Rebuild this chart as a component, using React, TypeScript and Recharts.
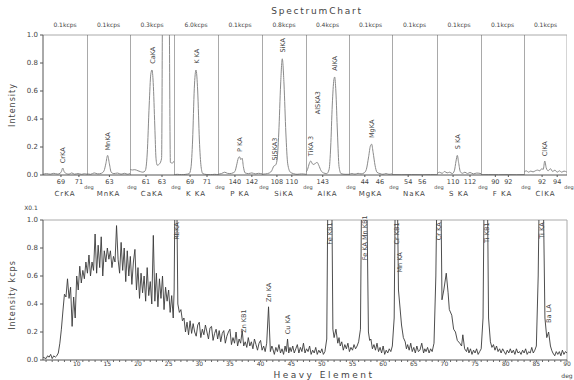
import { LineChart, Line, XAxis, YAxis, ReferenceLine, ReferenceDot } from "recharts";

const FONT = "'DejaVu Sans', Verdana, sans-serif";

// ---- top: spectrum panels ----
const panelNames = ["CrKA", "MnKA", "CaKA", "K KA", "P KA", "SiKA", "AlKA", "MgKA", "NaKA", "S KA", "F KA", "ClKA"];
const panelRates = ["0.1kcps", "0.1kcps", "0.3kcps", "6.0kcps", "0.1kcps", "0.8kcps", "0.4kcps", "0.1kcps", "0.1kcps", "0.1kcps", "0.1kcps", "0.1kcps"];
const panelDomains = [
  [67, 71.9], [60.5, 65.3], [59, 64.5], [67.1, 72.3], [138, 143.2], [106, 111.9],
  [140.9, 146.3], [41.9, 47.6], [51.7, 58.1], [108.1, 113.3], [87.8, 94.4], [89.6, 95.3],
];
const panelTicks = [[69, 71], [63], [61, 63], [69, 71], [140, 142], [108, 110], [143], [44, 46], [54, 56], [110, 112], [90, 92], [92, 94]];
const intensityTicks = [0, 0.2, 0.4, 0.6, 0.8, 1.0];

const crKA = [[67, 0.005], [67.4, 0.01], [67.8, 0.006], [68.2, 0.012], [68.6, 0.007], [68.9, 0.012], [69.05, 0.025], [69.2, 0.05], [69.35, 0.025], [69.6, 0.01], [69.9, 0.006], [70.2, 0.015], [70.5, 0.006], [70.9, 0.01], [71.3, 0.005], [71.6, 0.009], [71.9, 0.006]];
const mnKA = [[60.5, 0.01], [60.9, 0.005], [61.3, 0.015], [61.7, 0.008], [62.1, 0.012], [62.4, 0.03], [62.6, 0.08], [62.8, 0.14], [63.0, 0.08], [63.2, 0.02], [63.5, 0.01], [63.9, 0.014], [64.3, 0.006], [64.7, 0.012], [65.0, 0.006], [65.3, 0.01]];
const caKA = [[59, 0.04], [59.3, 0.036], [59.6, 0.038], [60, 0.03], [60.3, 0.024], [60.6, 0.02], [60.9, 0.03], [61.15, 0.15], [61.4, 0.5], [61.6, 0.72], [61.75, 0.75], [61.9, 0.66], [62.1, 0.35], [62.25, 0.12], [62.4, 0.07], [62.7, 0.08], [62.95, 0.12], [63.1, 1.5], [63.85, 1.5], [64.05, 0.09], [64.3, 0.085], [64.5, 0.1]];
const kKA = [[67.1, 0.002], [67.5, 0.005], [68, 0.002], [68.5, 0.005], [68.9, 0.01], [69.1, 0.05], [69.3, 0.25], [69.5, 0.62], [69.7, 0.75], [69.9, 0.6], [70.1, 0.25], [70.3, 0.06], [70.5, 0.01], [70.9, 0.004], [71.4, 0.002], [71.9, 0.005], [72.3, 0.002]];
const pKA = [[138, 0.005], [138.4, 0.01], [138.8, 0.02], [139.1, 0.012], [139.4, 0.01], [139.8, 0.016], [140.0, 0.025], [140.2, 0.07], [140.4, 0.12], [140.55, 0.13], [140.7, 0.11], [140.85, 0.12], [141.0, 0.06], [141.2, 0.015], [141.6, 0.01], [142, 0.015], [142.4, 0.008], [142.8, 0.012], [143.2, 0.008]];
const siKA = [[106, 0.005], [106.5, 0.008], [107, 0.015], [107.3, 0.03], [107.6, 0.065], [107.8, 0.07], [108.0, 0.1], [108.25, 0.3], [108.5, 0.65], [108.72, 0.83], [108.95, 0.65], [109.2, 0.3], [109.45, 0.08], [109.8, 0.02], [110.2, 0.01], [110.7, 0.005], [111.3, 0.008], [111.9, 0.005]];
const alKA = [[140.9, 0.02], [141.1, 0.04], [141.3, 0.08], [141.5, 0.1], [141.7, 0.08], [141.9, 0.075], [142.1, 0.085], [142.3, 0.09], [142.5, 0.07], [142.8, 0.03], [143.1, 0.015], [143.5, 0.01], [143.8, 0.04], [144.0, 0.2], [144.2, 0.5], [144.4, 0.68], [144.5, 0.7], [144.65, 0.6], [144.85, 0.3], [145.05, 0.06], [145.3, 0.01], [145.8, 0.005], [146.3, 0.005]];
const mgKA = [[41.9, 0.005], [42.3, 0.01], [42.7, 0.006], [43.1, 0.012], [43.5, 0.008], [43.9, 0.015], [44.2, 0.04], [44.5, 0.13], [44.75, 0.21], [44.9, 0.22], [45.1, 0.16], [45.35, 0.07], [45.6, 0.02], [46, 0.01], [46.4, 0.005], [46.8, 0.01], [47.2, 0.005], [47.6, 0.008]];
const naKA = [[51.7, 0.003], [53, 0.002], [54.5, 0.003], [56, 0.002], [57.2, 0.003], [58.1, 0.002]];
const sKA = [[108.1, 0.01], [108.4, 0.02], [108.7, 0.012], [109, 0.025], [109.3, 0.015], [109.6, 0.02], [109.9, 0.01], [110.15, 0.03], [110.35, 0.1], [110.5, 0.14], [110.65, 0.09], [110.85, 0.025], [111.1, 0.012], [111.4, 0.02], [111.7, 0.01], [112, 0.018], [112.4, 0.008], [112.8, 0.014], [113.3, 0.01]];
const fKA = [[87.8, 0.002], [89, 0.003], [90.5, 0.002], [92, 0.003], [93.2, 0.002], [94.4, 0.003]];
const clKA = [[89.6, 0.02], [89.9, 0.03], [90.2, 0.02], [90.5, 0.028], [90.8, 0.022], [91.1, 0.03], [91.4, 0.035], [91.7, 0.03], [91.95, 0.045], [92.15, 0.04], [92.35, 0.1], [92.55, 0.05], [92.8, 0.03], [93.1, 0.045], [93.4, 0.025], [93.7, 0.035], [94, 0.02], [94.3, 0.03], [94.6, 0.02], [94.9, 0.028], [95.3, 0.02]];
const panelSeries = [crKA, mnKA, caKA, kKA, pKA, siKA, alKA, mgKA, naKA, sKA, fKA, clKA];

const peakLabels = [
  { panel: 0, deg: 69.2, v: 0.07, text: "CrKA" },
  { panel: 1, deg: 62.8, v: 0.16, text: "MnKA" },
  { panel: 2, deg: 61.75, v: 0.78, text: "CaKA" },
  { panel: 3, deg: 69.7, v: 0.78, text: "K KA" },
  { panel: 4, deg: 140.55, v: 0.15, text: "P KA" },
  { panel: 5, deg: 107.7, v: 0.09, text: "SiSKA3" },
  { panel: 5, deg: 108.72, v: 0.86, text: "SiKA" },
  { panel: 6, deg: 141.5, v: 0.12, text: "TiKA 3" },
  { panel: 6, deg: 142.4, v: 0.42, text: "AlSKA3" },
  { panel: 6, deg: 144.5, v: 0.73, text: "AlKA" },
  { panel: 7, deg: 44.9, v: 0.25, text: "MgKA" },
  { panel: 9, deg: 110.5, v: 0.17, text: "S KA" },
  { panel: 11, deg: 92.35, v: 0.12, text: "ClKA" },
];

// panel borders in page pixels
const panelEdges = [43, 87, 130, 174, 218, 262, 306, 349, 392, 437, 481, 524, 567];

// ---- bottom: heavy element scan ----
const heavyScan = [
  [4.5, 0.02], [5, 0.01], [5.25, 0.03], [5.5, 0.02], [5.75, 0.04], [6, 0.01], [6.25, 0.03], [6.5, 0.02], [6.75, 0.03], [7, 0.05],
  [7.25, 0.12], [7.5, 0.22], [7.75, 0.35], [8, 0.47], [8.25, 0.45], [8.5, 0.58], [8.75, 0.44], [9, 0.52], [9.25, 0.24], [9.5, 0.45],
  [9.75, 0.3], [10, 0.6], [10.25, 0.5], [10.5, 0.67], [10.75, 0.55], [11, 0.64], [11.25, 0.58], [11.5, 0.7], [11.75, 0.62], [12, 0.75],
  [12.25, 0.6], [12.5, 0.7], [12.75, 0.64], [13, 0.9], [13.25, 0.62], [13.5, 0.82], [13.75, 0.66], [14, 0.88], [14.25, 0.6], [14.5, 0.78],
  [14.75, 0.7], [15, 0.8], [15.25, 0.72], [15.5, 0.78], [15.75, 0.66], [16, 0.74], [16.25, 0.7], [16.5, 0.96], [16.75, 0.72], [17, 0.62],
  [17.25, 0.84], [17.5, 0.64], [17.75, 0.8], [18, 0.56], [18.25, 0.78], [18.5, 0.6], [18.75, 0.74], [19, 0.54], [19.25, 0.7], [19.5, 0.79],
  [19.75, 0.5], [20, 0.66], [20.25, 0.44], [20.5, 0.62], [20.75, 0.48], [21, 0.6], [21.25, 0.42], [21.5, 0.66], [21.75, 0.46], [22, 0.56],
  [22.25, 0.4], [22.5, 0.89], [22.75, 0.42], [23, 0.62], [23.25, 0.38], [23.5, 0.58], [23.75, 0.44], [24, 0.6], [24.25, 0.36], [24.5, 0.52],
  [24.75, 0.42], [25, 0.5], [25.25, 0.34], [25.5, 0.46], [25.75, 0.3], [25.9, 0.5], [26.05, 1.3], [26.3, 1.3], [26.5, 0.4], [26.75, 0.34],
  [27, 0.36], [27.25, 0.28], [27.5, 0.3], [27.75, 0.2], [28, 0.27], [28.25, 0.18], [28.5, 0.28], [28.75, 0.19], [29, 0.26], [29.25, 0.2],
  [29.5, 0.17], [29.75, 0.25], [30, 0.27], [30.25, 0.16], [30.5, 0.22], [30.75, 0.18], [31, 0.25], [31.25, 0.2], [31.5, 0.15], [31.75, 0.23],
  [32, 0.24], [32.25, 0.14], [32.5, 0.19], [32.75, 0.22], [33, 0.15], [33.25, 0.21], [33.5, 0.13], [33.75, 0.19], [34, 0.21], [34.25, 0.12],
  [34.5, 0.17], [34.75, 0.2], [35, 0.22], [35.25, 0.11], [35.5, 0.16], [35.75, 0.12], [36, 0.2], [36.25, 0.1], [36.5, 0.15], [36.75, 0.12],
  [37, 0.21], [37.25, 0.1], [37.5, 0.13], [37.75, 0.09], [38, 0.16], [38.25, 0.1], [38.5, 0.13], [38.75, 0.08], [39, 0.15], [39.25, 0.11],
  [39.5, 0.07], [39.75, 0.12], [40, 0.14], [40.25, 0.07], [40.5, 0.1], [40.75, 0.06], [41, 0.12], [41.3, 0.38], [41.6, 0.06], [41.85, 0.1],
  [42, 0.08], [42.25, 0.04], [42.5, 0.09], [42.75, 0.06], [43, 0.11], [43.25, 0.05], [43.5, 0.08], [43.75, 0.04], [44, 0.1], [44.2, 0.06],
  [44.4, 0.15], [44.6, 0.05], [44.8, 0.09], [45, 0.06], [45.25, 0.1], [45.5, 0.05], [45.75, 0.08], [46, 0.11], [46.25, 0.05], [46.5, 0.09],
  [46.75, 0.06], [47, 0.12], [47.25, 0.05], [47.5, 0.08], [47.75, 0.06], [48, 0.1], [48.25, 0.04], [48.5, 0.07], [48.75, 0.05], [49, 0.09],
  [49.25, 0.04], [49.5, 0.07], [49.75, 0.05], [50, 0.08], [50.25, 0.04], [50.5, 0.06], [50.8, 0.15], [51, 1.3], [51.6, 1.3], [51.8, 0.22],
  [52, 0.16], [52.3, 0.22], [52.6, 0.12], [52.8, 0.16], [53, 0.1], [53.25, 0.13], [53.5, 0.07], [53.75, 0.11], [54, 0.08], [54.25, 0.12],
  [54.5, 0.06], [54.75, 0.09], [55, 0.07], [55.25, 0.11], [55.5, 0.08], [55.75, 0.1], [56, 0.13], [56.3, 0.22], [56.5, 1.3], [57.3, 1.3],
  [57.6, 0.2], [57.8, 0.14], [58, 0.15], [58.25, 0.08], [58.5, 0.11], [58.75, 0.07], [59, 0.12], [59.25, 0.06], [59.5, 0.09], [59.75, 0.05],
  [60, 0.1], [60.25, 0.04], [60.5, 0.07], [60.75, 0.05], [61, 0.08], [61.25, 0.06], [61.5, 0.1], [61.8, 0.3], [62, 1.3], [62.3, 1.3],
  [62.5, 0.5], [62.7, 0.4], [63, 0.25], [63.3, 0.16], [63.6, 0.13], [63.8, 0.08], [64, 0.11], [64.25, 0.07], [64.5, 0.12], [64.75, 0.06],
  [65, 0.09], [65.25, 0.05], [65.5, 0.1], [65.75, 0.06], [66, 0.07], [66.3, 0.12], [66.6, 0.05], [66.8, 0.08], [67, 0.06], [67.25, 0.09],
  [67.5, 0.05], [67.75, 0.08], [68, 0.06], [68.3, 0.12], [68.6, 0.6], [68.8, 1.3], [69.4, 1.3], [69.6, 0.43], [69.9, 0.5], [70.3, 0.62],
  [70.6, 0.48], [70.8, 0.36], [71.2, 0.32], [71.5, 0.22], [71.8, 0.2], [72.1, 0.14], [72.5, 0.12], [72.8, 0.1], [73, 0.18], [73.3, 0.08],
  [73.6, 0.06], [73.8, 0.09], [74, 0.05], [74.25, 0.08], [74.5, 0.04], [74.75, 0.07], [75, 0.05], [75.25, 0.08], [75.5, 0.04], [75.75, 0.06],
  [76, 0.08], [76.3, 0.3], [76.5, 1.3], [77, 1.3], [77.2, 0.3], [77.5, 0.13], [77.75, 0.09], [78, 0.11], [78.25, 0.07], [78.5, 0.1],
  [78.75, 0.06], [79, 0.08], [79.25, 0.05], [79.5, 0.08], [79.75, 0.06], [80, 0.04], [80.25, 0.07], [80.5, 0.05], [80.75, 0.08], [81, 0.05],
  [81.25, 0.07], [81.5, 0.04], [81.75, 0.08], [82, 0.05], [82.25, 0.06], [82.5, 0.04], [82.75, 0.07], [83, 0.05], [83.25, 0.08], [83.5, 0.04],
  [83.75, 0.06], [84, 0.05], [84.25, 0.09], [84.5, 0.05], [84.75, 0.07], [85, 0.1], [85.3, 0.6], [85.5, 1.3], [86.1, 1.3], [86.4, 0.3],
  [86.7, 0.16], [87, 0.2], [87.3, 0.1], [87.5, 0.07], [87.7, 0.05], [88, 0.03], [88.25, 0.06], [88.5, 0.04], [88.75, 0.06], [89, 0.03],
  [89.25, 0.07], [89.5, 0.04], [89.75, 0.06], [90, 0.05],
];
const heavyTickLabels = [10, 15, 20, 25, 30, 35, 40, 45, 50, 55, 60, 65, 70, 75, 80, 85, 90];
const heavyMinorTicks = Array.from({ length: 86 }, (_, i) => 5 + i);

// anchor "start": text runs up from the point; "end": text hangs down from the point
const heavyLabels = [
  { deg: 26.3, v: 0.99, text: "RbKA", anchor: "end" },
  { deg: 37.2, v: 0.18, text: "Zn KB1", anchor: "start" },
  { deg: 41.3, v: 0.4, text: "Zn KA", anchor: "start" },
  { deg: 44.4, v: 0.17, text: "Cu KA", anchor: "start" },
  { deg: 51.3, v: 0.99, text: "Fe KB1", anchor: "end" },
  { deg: 56.9, v: 1.04, text: "Fe KA Mn KB1", anchor: "end" },
  { deg: 62.1, v: 0.99, text: "Cr KB1", anchor: "end" },
  { deg: 62.6, v: 0.61, text: "Mn KA", anchor: "start" },
  { deg: 69.1, v: 0.99, text: "Cr KA", anchor: "end" },
  { deg: 76.8, v: 0.99, text: "Ti KB1", anchor: "end" },
  { deg: 85.8, v: 0.99, text: "Ti KA", anchor: "end" },
  { deg: 86.9, v: 0.25, text: "Ba LA", anchor: "start" },
];

const Txt = ({ x, y, size = 7, rotate = 0, spacing = 0, weight = 400, color = "#444", children }: any) => (
  <div
    style={{
      position: "absolute",
      left: x,
      top: y,
      transform: `translate(-50%, -50%) rotate(${rotate}deg)`,
      fontSize: size,
      letterSpacing: spacing,
      fontWeight: weight,
      color,
      whiteSpace: "nowrap",
      lineHeight: 1,
    }}
  >
    {children}
  </div>
);

const PeakText = ({ viewBox, text, anchor = "start" }: any) => {
  if (!viewBox) return null;
  const x = viewBox.x + viewBox.width / 2 + 0.5;
  const y = anchor === "start" ? viewBox.y - 2 : viewBox.y + 1;
  return (
    <text
      transform={`translate(${x},${y}) rotate(-90)`}
      textAnchor={anchor}
      dominantBaseline="central"
      fontSize={6.5}
      fill="#444"
    >
      {text}
    </text>
  );
};

const axisTick = { fontSize: 7, fill: "#444" };

function SpectrumPanel({ index }: { index: number }) {
  const first = index === 0;
  const last = index === panelSeries.length - 1;
  const left = first ? 0 : panelEdges[index];
  const width = panelEdges[index + 1] - left;
  const dom = panelDomains[index];
  const data = panelSeries[index].map(([deg, v]) => ({ deg, v }));
  return (
    <div style={{ position: "absolute", left, top: 25 }}>
      <LineChart width={width} height={170} data={data} margin={{ top: 10, right: 0, bottom: 0, left: 0 }}>
        <XAxis
          type="number"
          dataKey="deg"
          domain={dom}
          ticks={panelTicks[index]}
          allowDataOverflow
          interval={0}
          height={20}
          tickSize={2}
          tick={{ fontSize: 6.5, fill: "#444" }}
          tickLine={{ stroke: "#555" }}
          axisLine={{ stroke: "#555" }}
        />
        <YAxis
          hide={!first}
          width={43}
          domain={[0, 1]}
          ticks={intensityTicks}
          allowDataOverflow
          tickFormatter={(v) => v.toFixed(1)}
          tickSize={3}
          tick={axisTick}
          tickLine={{ stroke: "#555" }}
          axisLine={{ stroke: "#555" }}
        />
        <ReferenceLine y={1} stroke="#aaa" ifOverflow="visible" />
        {!first && <ReferenceLine x={dom[0]} stroke="#555" ifOverflow="visible" />}
        {last && <ReferenceLine x={dom[1]} stroke="#aaa" ifOverflow="visible" />}
        <Line type="monotone" dataKey="v" stroke="#8a8a8a" strokeWidth={1} dot={false} isAnimationActive={false} />
        {peakLabels
          .filter((p) => p.panel === index)
          .map((p) => (
            <ReferenceDot
              key={p.text}
              x={p.deg}
              y={p.v}
              r={0}
              fill="none"
              stroke="none"
              ifOverflow="visible"
              label={<PeakText text={p.text} anchor="start" />}
            />
          ))}
      </LineChart>
    </div>
  );
}

export default function App() {
  const heavyData = heavyScan.map(([deg, v]) => ({ deg, v }));
  return (
    <div
      style={{
        position: "absolute",
        left: 0,
        top: 0,
        width: 574,
        height: 380,
        background: "#fff",
        fontFamily: FONT,
        color: "#444",
        overflow: "hidden",
      }}
    >
      <Txt x={317} y={11} size={9} spacing={1.8}>SpectrumChart</Txt>
      {panelRates.map((r, i) => (
        <Txt key={i} x={(panelEdges[i] + panelEdges[i + 1]) / 2} y={25} size={6}>{r}</Txt>
      ))}
      {panelSeries.map((_, i) => (
        <SpectrumPanel key={i} index={i} />
      ))}
      {panelNames.map((n, i) => (
        <Txt key={n} x={(panelEdges[i] + panelEdges[i + 1]) / 2} y={194} size={7} spacing={1}>{n}</Txt>
      ))}
      {panelEdges.slice(1).map((x, i) => (
        <Txt key={i} x={x + 2} y={187} size={5}>deg</Txt>
      ))}
      <Txt x={13} y={105} size={8} rotate={-90} spacing={1}>Intensity</Txt>

      <div style={{ position: "absolute", left: 0, top: 210 }}>
        <LineChart width={574} height={170} data={heavyData} margin={{ top: 10, right: 7, bottom: 0, left: 0 }}>
          <XAxis
            type="number"
            dataKey="deg"
            domain={[4.5, 90]}
            allowDataOverflow
            ticks={heavyMinorTicks}
            interval={0}
            tickFormatter={(v) => (heavyTickLabels.includes(v) ? String(v) : "")}
            height={20}
            tickSize={2}
            tickMargin={0}
            tick={{ fontSize: 6, fill: "#444" }}
            tickLine={{ stroke: "#666" }}
            axisLine={{ stroke: "#555" }}
          />
          <YAxis
            width={43}
            domain={[0, 1]}
            ticks={intensityTicks}
            allowDataOverflow
            tickFormatter={(v) => v.toFixed(1)}
            tickSize={3}
            tick={axisTick}
            tickLine={{ stroke: "#555" }}
            axisLine={{ stroke: "#555" }}
          />
          <ReferenceLine y={1} stroke="#aaa" ifOverflow="visible" />
          <ReferenceLine x={90} stroke="#aaa" ifOverflow="visible" />
          <Line type="linear" dataKey="v" stroke="#3a3a3a" strokeWidth={0.9} dot={false} isAnimationActive={false} />
          {heavyLabels.map((p) => (
            <ReferenceDot
              key={p.text}
              x={p.deg}
              y={p.v}
              r={0}
              fill="none"
              stroke="none"
              ifOverflow="visible"
              label={<PeakText text={p.text} anchor={p.anchor} />}
            />
          ))}
        </LineChart>
      </div>
      <Txt x={31} y={208} size={6}>X0.1</Txt>
      <Txt x={13} y={295} size={8} rotate={-90} spacing={1}>Intensity  kcps</Txt>
      <Txt x={324} y={375} size={9} spacing={2.5}>Heavy Element</Txt>
      <Txt x={567} y={376} size={6}>deg</Txt>
    </div>
  );
}
